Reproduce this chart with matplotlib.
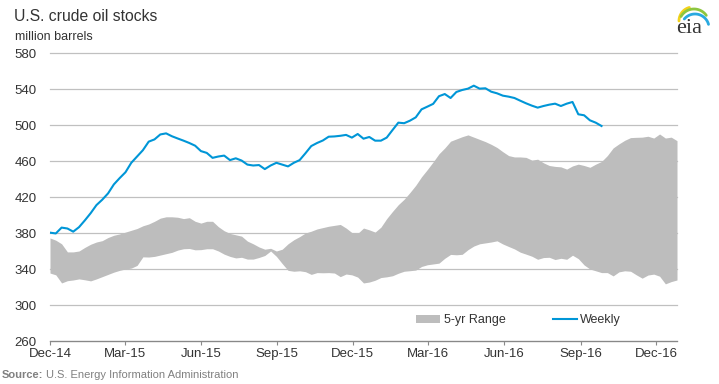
import numpy as np
import pandas as pd
import matplotlib
matplotlib.use("Agg")
import matplotlib.pyplot as plt
from matplotlib.patches import Patch
from matplotlib.lines import Line2D

plt.rcParams['font.family'] = ['Liberation Sans', 'DejaVu Sans']

# weekly U.S. crude oil stocks, million barrels (Dec 2014 - Sep 2016)
weekly = [
    380.4, 379.5, 386.0, 385.0, 381.5, 386.5, 394.0, 402.0, 411.0, 417.0,
    424.0, 434.0, 441.0, 447.5, 458.0, 465.0, 472.0, 481.5, 484.0, 489.5,
    490.7, 487.5, 485.0, 482.6, 480.0, 477.0, 471.0, 469.0, 463.5, 465.0,
    466.0, 461.0, 463.0, 460.5, 456.0, 455.0, 455.5, 451.0, 455.0, 458.0,
    456.0, 454.0, 458.0, 461.0, 468.6, 476.6, 480.0, 482.8, 487.0, 487.3,
    488.0, 489.0, 486.0, 490.0, 484.8, 486.7, 482.6, 482.6, 486.0, 494.4,
    502.6, 502.0, 504.8, 508.5, 517.4, 520.4, 523.5, 532.0, 534.4, 530.0,
    536.7, 538.9, 540.4, 543.7, 540.4, 540.8, 537.0, 535.2, 532.6, 531.5,
    530.0, 527.0, 524.1, 521.5, 519.3, 521.1, 522.6, 523.7, 521.1, 523.7,
    525.6, 511.9, 510.8, 505.2, 502.6, 498.9,
]

# 5-year range, upper and lower bounds (Dec 2014 - Dec 2016)
range_hi = [
    374.5, 372.0, 368.0, 359.0, 359.0, 360.0, 364.0, 367.5, 370.0, 371.5,
    375.0, 377.5, 379.0, 381.0, 383.0, 385.0, 388.0, 390.0, 393.0, 396.5,
    398.0, 398.0, 397.5, 396.0, 397.0, 393.0, 391.0, 393.0, 393.0, 387.0,
    382.5, 379.5, 378.0, 376.5, 371.0, 368.0, 364.5, 362.0, 363.0, 360.0,
    362.0, 368.0, 372.5, 376.0, 380.0, 382.0, 384.5, 386.0, 387.5, 388.5,
    389.5, 385.5, 380.5, 379.5, 385.5, 383.5, 381.0, 386.5, 396.0, 404.0,
    411.5, 417.5, 425.0, 433.0, 442.5, 450.5, 459.0, 468.0, 474.5, 482.0,
    484.5, 487.0, 489.0, 486.5, 484.0, 481.5, 478.5, 475.0, 470.3, 466.0,
    464.5, 464.5, 464.0, 461.0, 462.0, 458.0, 455.0, 454.0, 453.5, 451.0,
    454.5, 456.5, 455.0, 453.0, 456.5, 459.5, 466.0, 474.5, 479.0, 483.0,
    486.0, 486.3, 486.5, 487.5, 485.5, 490.0, 485.5, 486.5, 482.6,
]
range_lo = [
    335.5, 333.5, 324.5, 327.0, 327.8, 329.0, 328.0, 326.8, 329.0, 331.5,
    334.0, 336.5, 338.5, 340.0, 341.0, 344.0, 353.5, 353.3, 354.0, 355.5,
    357.0, 358.5, 361.0, 362.5, 362.8, 361.3, 361.5, 362.5, 362.5, 360.0,
    356.5, 354.0, 352.3, 353.0, 351.0, 351.0, 352.8, 355.0, 360.0, 354.0,
    346.0, 338.5, 337.5, 338.0, 337.0, 334.0, 336.0, 335.8, 336.0, 335.5,
    331.5, 334.4, 333.5, 331.0, 324.5, 325.5, 327.5, 330.5, 331.3, 332.5,
    335.3, 337.5, 338.1, 338.8, 342.8, 344.7, 345.6, 346.5, 351.9, 356.2,
    355.8, 356.3, 361.5, 365.5, 368.0, 369.0, 370.0, 371.3, 367.8, 365.0,
    362.3, 358.7, 356.5, 354.2, 350.8, 352.7, 353.0, 350.5, 351.9, 350.8,
    355.3, 351.5, 344.5, 340.0, 338.0, 336.0, 336.0, 332.3, 336.8, 338.0,
    337.5, 333.5, 329.8, 333.3, 334.3, 332.0, 323.5, 326.0, 327.8,
]

weekly_dates = pd.date_range("2014-12-01", periods=len(weekly), freq="7D")
range_dates = pd.date_range("2014-12-01", periods=len(range_hi), freq="7D")

tick_dates = pd.to_datetime(["2014-12-01", "2015-03-01", "2015-06-01", "2015-09-01",
                             "2015-12-01", "2016-03-01", "2016-06-01", "2016-09-01",
                             "2016-12-01"])
tick_labels = ["Dec-14", "Mar-15", "Jun-15", "Sep-15", "Dec-15",
               "Mar-16", "Jun-16", "Sep-16", "Dec-16"]
y_ticks = [260, 300, 340, 380, 420, 460, 500, 540, 580]

W, H = 719, 384
fig = plt.figure(figsize=(W / 100, H / 100), dpi=100)
ax = fig.add_axes([50 / W, 1 - 341 / H, 627 / W, 288 / H])

txt = "#333333"
blue = "#0096d7"
grey_fill = "#bdbdbd"

ax.fill_between(range_dates, range_lo, range_hi, color=grey_fill, linewidth=0, zorder=2)
ax.plot(weekly_dates, weekly, color=blue, linewidth=1.5, zorder=3)

ax.set_xlim(pd.Timestamp("2014-12-01"), pd.Timestamp("2016-12-26"))
ax.set_ylim(260, 580)
ax.set_xticks(tick_dates)
ax.set_xticklabels(tick_labels)
ax.set_yticks(y_ticks)

ax.yaxis.grid(True, color="#c0c0c0", linewidth=0.9, zorder=1)
ax.set_axisbelow(True)
for gl in ax.get_ygridlines():
    gl.set_clip_on(False)

for s in ["left", "right", "top"]:
    ax.spines[s].set_visible(False)
ax.spines["bottom"].set_color("#888888")
ax.spines["bottom"].set_linewidth(0.9)

ax.tick_params(axis="y", length=0, pad=9.5, labelsize=9.5, labelcolor=txt)
ax.tick_params(axis="x", length=3, width=0.8, color="#888888", pad=2,
               labelsize=9.5, labelcolor=txt)

# legend
handles = [Patch(facecolor=grey_fill, edgecolor="none"),
           Line2D([0], [0], color=blue, linewidth=1.5)]
leg = fig.legend(handles, ["5-yr Range", "Weekly"], loc="center left",
                 bbox_to_anchor=(416 / W, 1 - 320 / H), ncol=2, frameon=False,
                 fontsize=9, handlelength=1.9, handleheight=0.6, handletextpad=0.3,
                 columnspacing=3.8, borderpad=0, borderaxespad=0)
for t in leg.get_texts():
    t.set_color(txt)

# titles
fig.text(14 / W, 1 - 21 / H, "U.S. crude oil stocks", fontsize=11.3, color=txt,
         va="baseline", ha="left")
fig.text(15 / W, 1 - 39.5 / H, "million barrels", fontsize=9, color=txt,
         va="baseline", ha="left")

# source
src = fig.text(2 / W, 1 - 378 / H, "Source:", fontsize=8, color="#808080",
               fontweight="bold", va="baseline", ha="left")
fig.canvas.draw()
bb = src.get_window_extent()
fig.text((bb.x1 + 3) / W, 1 - 378 / H, "U.S. Energy Information Administration",
         fontsize=8, color="#808080", va="baseline", ha="left")

# eia logo
lax = fig.add_axes([660 / W, 1 - 40 / H, 59 / W, 40 / H])
lax.set_xlim(660, 719)
lax.set_ylim(40, 0)
lax.axis("off")
for (cx, cy, r, a0, a1, col) in [(693, 21, 14, 180, 105, "#f2d21b"),
                                 (694, 24, 15, 150, 35, "#8dc63f"),
                                 (695, 28, 14, 140, 15, "#29a9e0")]:
    th = np.deg2rad(np.linspace(a0, a1, 40))
    lax.plot(cx + r * np.cos(th), cy - r * np.sin(th), color=col, linewidth=2,
             solid_capstyle="round")
lax.text(689, 33, "eia", fontsize=16, family=["Liberation Serif", "DejaVu Serif"],
         color="#333333", ha="center", va="baseline")

fig.savefig("out.png", dpi=100)
